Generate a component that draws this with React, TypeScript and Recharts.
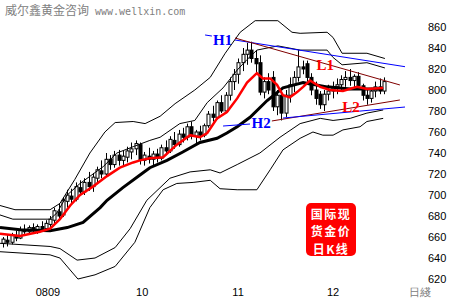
import React from 'react'
import { ComposedChart, Bar, Line, XAxis, YAxis, ReferenceDot } from 'recharts'

// daily candles, one per trading day (index = day number)
const opens = [654, 657, 655, 661, 659, 667, 665, 669, 666, 670, 668, 672, 676, 684, 681, 694, 699, 696, 707, 703, 712, 708, 716, 723, 720, 734, 729, 738, 733, 736, 741, 744, 748, 733, 737, 734, 739, 735, 745, 742, 752, 748, 758, 755, 765, 756, 760, 757, 766, 777, 774, 788, 780, 795, 808, 815, 826, 834, 838, 830, 826, 798, 808, 812, 784, 795, 778, 795, 805, 812, 822, 825, 812, 800, 796, 786, 796, 799, 803, 805, 810, 812, 809, 813, 804, 795, 792, 799, 803, 799]
const highs = [660, 662, 664, 666, 670, 672, 671, 673, 672, 675, 676, 680, 688, 692, 698, 705, 706, 712, 714, 716, 722, 721, 727, 733, 740, 738, 742, 743, 742, 746, 750, 752, 750, 741, 745, 742, 744, 748, 752, 756, 760, 762, 764, 768, 770, 762, 766, 768, 780, 785, 790, 795, 798, 812, 820, 830, 840, 845, 846, 838, 833, 812, 816, 818, 800, 798, 800, 812, 818, 838, 828, 828, 816, 808, 799, 800, 805, 808, 811, 814, 818, 820, 815, 817, 806, 800, 802, 808, 811, 812]
const lows = [650, 651, 653, 656, 658, 663, 662, 664, 663, 666, 665, 669, 673, 678, 679, 688, 692, 694, 700, 700, 704, 703, 712, 716, 718, 724, 726, 728, 727, 731, 734, 738, 729, 728, 730, 727, 731, 733, 738, 740, 744, 746, 750, 752, 753, 748, 752, 755, 764, 770, 772, 778, 778, 790, 800, 806, 818, 824, 826, 815, 795, 792, 796, 780, 776, 771, 774, 788, 798, 808, 815, 808, 795, 786, 782, 780, 790, 792, 796, 799, 803, 804, 800, 801, 790, 786, 788, 793, 796, 796]
const closes = [658, 655, 662, 659, 667, 665, 669, 666, 670, 668, 673, 677, 685, 680, 695, 700, 696, 708, 703, 712, 708, 717, 724, 720, 734, 729, 738, 733, 737, 742, 744, 749, 733, 738, 734, 739, 735, 745, 742, 753, 748, 758, 755, 765, 756, 760, 757, 766, 777, 774, 788, 780, 795, 808, 815, 826, 834, 838, 830, 825, 798, 808, 800, 784, 795, 778, 795, 805, 812, 822, 820, 812, 800, 792, 786, 796, 799, 803, 805, 810, 812, 809, 813, 804, 795, 792, 799, 803, 799, 808]

// [day, price] points
const maShort: [number, number][] = [[-0.7, 663], [4, 661], [8.6, 665], [11, 668], [13.3, 677], [15.7, 690], [18, 700], [21, 708], [24.3, 718], [27.3, 726], [30.4, 731], [32, 733], [34.3, 735], [37.4, 736], [40.6, 748], [43.7, 757], [46, 755], [47.7, 759], [50, 773], [52.3, 779], [54.7, 792], [57, 807], [59.3, 816], [60.7, 811], [62.4, 811], [64, 805], [65.4, 795], [67, 793], [68.7, 798], [70.1, 803], [71.7, 809], [74.1, 803], [76.4, 800], [79.4, 799], [82.7, 803], [85, 801], [88.8, 802]]
const maLong: [number, number][] = [[-0.7, 669], [4, 667], [11, 666], [15, 669], [18.7, 674], [22.7, 688], [24.3, 695], [28, 707], [32, 719], [34.3, 726], [38.3, 733], [42, 741], [46, 750], [50, 754], [52.3, 759], [54.7, 765], [57.7, 774], [61.7, 790], [65.4, 802], [70.1, 807], [75.7, 803], [81.1, 801], [88.8, 801]]
const upperOuter: [number, number][] = [[-0.7, 690], [2.8, 686], [11, 686], [13.3, 692], [16.8, 715], [20.3, 740], [23.8, 760], [26.2, 769], [30.4, 770], [33.2, 768], [36.7, 775], [40.2, 787], [44.8, 800], [48.4, 812], [51.9, 835], [55.4, 855], [58.9, 866], [64.2, 866], [67.5, 855], [69.4, 854], [75.7, 855], [77.1, 850], [79.2, 835], [85, 835], [89.2, 830]]
const upperInner: [number, number][] = [[-0.7, 681], [2.3, 677], [11, 677], [12.6, 683], [15, 700], [18, 711], [23.4, 727], [26.6, 740], [30.4, 746], [34.3, 752], [36.7, 755], [41.3, 768], [44.8, 771], [47.7, 788], [51.4, 802], [54.7, 819], [57, 829], [59.3, 838], [64.2, 842], [69.4, 838], [75.7, 838], [77.1, 831], [79.2, 824], [85, 826], [89.2, 821]]
const lowerInner: [number, number][] = [[-0.7, 654], [11, 651], [13.3, 649], [17.3, 638], [21.5, 640], [26.2, 650], [29.7, 668], [33.6, 695], [39, 716], [43.7, 722], [48.4, 724], [50.7, 721], [54.7, 729], [60, 740], [64.7, 755], [69.4, 768], [74.1, 773], [77.1, 771], [81.1, 773], [85, 778], [88.8, 781]]
const lowerOuter: [number, number][] = [[-0.7, 646], [11, 643], [13.3, 640], [17.5, 620], [21.5, 624], [26.2, 632], [30.8, 655], [34.3, 688], [37.4, 705], [40.6, 711], [44.4, 712], [48.4, 714], [50.7, 706], [54.7, 705], [59.3, 705], [62.4, 724], [65.4, 743], [69.4, 754], [72.4, 760], [74.7, 757], [77.1, 757], [79.4, 762], [83.4, 765], [85, 770], [88.8, 773]]

// trend lines
const h1Blue: [number, number][] = [[54.2, 847.6], [93.9, 822.2]]
const h1Tick: [number, number][] = [[47.2, 852.4], [48.8, 851.4]]
const h1Red: [number, number][] = [[54.2, 849.5], [92.7, 804.8]]
const h2Blue: [number, number][] = [[51.4, 765.7], [57.7, 767.6]]
const l2Red: [number, number][] = [[62.8, 770.5], [92.7, 790.5]]
const l2Blue: [number, number][] = [[65.4, 773.3], [93.9, 783.8]]

const marks = [
  { name: 'H1', day: 51.3, price: 847.6, color: '#0000ff' },
  { name: 'L1', day: 75.3, price: 824.3, color: '#ff0000' },
  { name: 'H2', day: 60.3, price: 768.6, color: '#0000ff' },
  { name: 'L2', day: 81.3, price: 783.8, color: '#ff0000' },
]

const priceTicks = [620, 640, 660, 680, 700, 720, 740, 760, 780, 800, 820, 840, 860]
const monthTicks = [10.5, 32.5, 54.9, 77.1, 97.4]
const monthLabels = ['0809', '10', '11', '12', '日綫']
const stampLines = ['国际现', '货金价', '日K线']

const candles = opens.map((o, i) => ({
  i, open: o, high: highs[i], low: lows[i], close: closes[i], range: [lows[i], highs[i]],
}))

const pts = (arr: [number, number][]) => arr.map(([i, v]) => ({ i, v }))

function Candle(props: any) {
  const { x, y, width, height, payload } = props
  const top = Math.min(y, y + height)
  const h = Math.abs(height)
  const k = h / (payload.high - payload.low || 1)
  const yo = top + (payload.high - payload.open) * k
  const yc = top + (payload.high - payload.close) * k
  const cx = Math.round(x + width / 2) + 0.5
  const up = payload.close >= payload.open
  return (
    <g>
      <line x1={cx} x2={cx} y1={top} y2={top + h} stroke="#000" />
      <rect x={cx - 1.5} y={Math.min(yo, yc)} width={3} height={Math.max(1, Math.abs(yo - yc))}
        fill={up ? '#fff' : '#000'} stroke="#000" />
    </g>
  )
}

function MonthTick({ x, y, payload }: any) {
  const idx = monthTicks.indexOf(payload.value)
  const last = idx === monthLabels.length - 1
  return (
    <text x={x} y={y} dy="0.71em" textAnchor="middle" fontSize={11} fontFamily="Liberation Sans"
      fill={last ? '#808080' : '#000'}>
      {monthLabels[idx]}
    </text>
  )
}

const thin = (data: [number, number][], color: string, key: string, w = 1) => (
  <Line key={key} data={pts(data)} dataKey="v" stroke={color} strokeWidth={w} dot={false}
    activeDot={false} isAnimationActive={false} type="linear" />
)

export default function App() {
  return (
    <div style={{ position: 'absolute', left: 0, top: 0, width: 450, height: 300, background: '#fff' }}>
      <ComposedChart width={450} height={300} data={candles} margin={{ top: 6, right: 0, bottom: 0, left: 0 }}>
        <XAxis dataKey="i" type="number" domain={[-0.7, 97.4]} ticks={monthTicks} interval={0}
          axisLine={false} tickLine={false} tickSize={0} tickMargin={1} height={13} tick={<MonthTick />}
          allowDataOverflow />
        <YAxis orientation="right" domain={[612.4, 880]} ticks={priceTicks} width={30} axisLine={false}
          tickLine={false} allowDataOverflow
          tick={{ fontSize: 11, fill: '#000', fontFamily: 'Liberation Sans' }} />
        {thin(upperOuter, '#000', 'uo')}
        {thin(upperInner, '#000', 'ui')}
        {thin(lowerInner, '#000', 'li')}
        {thin(lowerOuter, '#000', 'lo')}
        <Bar dataKey="range" barSize={3} shape={<Candle />} isAnimationActive={false} />
        {thin(maLong, '#000', 'mal', 3)}
        {thin(maShort, '#ff0000', 'mas', 2.5)}
        {thin(h1Blue, '#0000ff', 'h1b')}
        {thin(h1Tick, '#0000ff', 'h1t')}
        {thin(h1Red, '#800000', 'h1r')}
        {thin(h2Blue, '#0000ff', 'h2b')}
        {thin(l2Red, '#800000', 'l2r')}
        {thin(l2Blue, '#0000ff', 'l2b')}
        {marks.map(m => (
          <ReferenceDot key={m.name} x={m.day} y={m.price} r={0} fill="none" stroke="none"
            label={{ value: m.name, position: 'center', fill: m.color, fontSize: 15, fontWeight: 'bold', fontFamily: 'Liberation Serif' }} />
        ))}
      </ComposedChart>
      <div style={{ position: 'absolute', left: 5, top: 1, whiteSpace: 'nowrap', color: '#808080' }}>
        <span style={{ fontSize: 12, fontFamily: 'Noto Sans CJK SC' }}>威尔鑫黄金咨询</span>
        <span style={{ fontSize: 10, fontFamily: 'DejaVu Sans Mono', marginLeft: 6 }}>www.wellxin.com</span>
      </div>
      <svg width={50} height={53} style={{ position: 'absolute', left: 306, top: 203 }}>
        <rect x={0} y={0} width={50} height={53} rx={5} fill="#ff0000" />
        {stampLines.map((s, k) => (
          <text key={s} x={25} y={15.5 + k * 17.6} textAnchor="middle" fill="#fff" fontSize={12}
            fontWeight="bold" letterSpacing={1.5} fontFamily="Noto Sans CJK SC">{s}</text>
        ))}
      </svg>
    </div>
  )
}
